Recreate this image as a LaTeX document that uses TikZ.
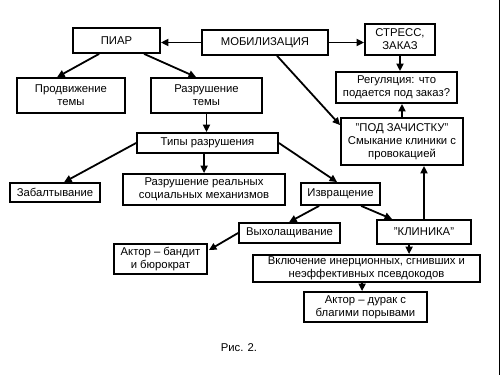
\documentclass[tikz,border=0pt]{standalone}
\usepackage{fontspec}
\setmainfont{Liberation Sans}
\usetikzlibrary{arrows.meta,calc}
\begin{document}
\begin{tikzpicture}[x=1pt,y=-1pt,
  box/.style={draw,line width=1.8pt,inner sep=0pt,align=center,font=\fontsize{11.3}{13.2}\selectfont},
  arr/.style={line width=1.8pt,-{Triangle[length=7.5pt,width=7pt]}}]
\useasboundingbox (0,0) rectangle (500,375);
\node[box,minimum width=87pt,minimum height=25pt] (piar) at (116.5,40.5) {ПИАР};
\node[box,minimum width=126pt,minimum height=25pt] (mob) at (265,42.5) {МОБИЛИЗАЦИЯ};
\node[box,minimum width=70pt,minimum height=31pt] (stress) at (400,39.5) {СТРЕСС,\\ЗАКАЗ};
\node[box,minimum width=121pt,minimum height=31pt] (reg) at (396.5,87.5) {Регуляция: что\\подается под заказ?};
\node[box,minimum width=122pt,minimum height=47pt] (zach) at (402,141.5) {"ПОД ЗАЧИСТКУ"\\Смыкание клиники с\\провокацией};
\node[box,minimum width=108pt,minimum height=35pt] (prod) at (71,95.5) {Продвижение\\темы};
\node[box,minimum width=111pt,minimum height=35pt] (razr) at (206.5,95.5) {Разрушение\\темы};
\node[box,minimum width=141pt,minimum height=20pt] (tipy) at (207.5,143) {Типы разрушения};
\node[box,minimum width=90pt,minimum height=19pt] (zab) at (55,192.5) {Забалтывание};
\node[box,minimum width=162pt,minimum height=31pt] (real) at (204,189.5) {Разрушение реальных\\социальных механизмов};
\node[box,minimum width=79pt,minimum height=22pt] (izv) at (340.5,194) {Извращение};
\node[box,minimum width=101pt,minimum height=20pt] (vyh) at (289.5,233) {Выхолащивание};
\node[box,minimum width=94pt,minimum height=24pt] (klin) at (424,232) {"КЛИНИКА"};
\node[box,minimum width=93pt,minimum height=30pt] (band) at (160.5,259) {Актор – бандит\\и бюрократ};
\node[box,minimum width=227pt,minimum height=27pt] (vkl) at (366.5,268.5) {Включение инерционных, сгнивших и\\неэффективных псевдокодов};
\node[box,minimum width=123pt,minimum height=30pt] (dur) at (365.5,307) {Актор – дурак с\\благими порывами};
\node[font=\fontsize{11.3}{13.2}\selectfont,inner sep=0pt] (cap) at (239,348) {Рис. 2.};
\draw[arr] (mob.west) -- (mob.west -| piar.east);
\draw[arr] (mob.east) -- (mob.east -| stress.west);
\draw[arr] ($(mob.south west)+(76,0)$) -- ($(zach.north west)+(0,8)$);
\draw[arr] (stress.south) -- (stress.south |- reg.north);
\draw[arr] (zach.north) -- (zach.north |- reg.south);
\draw[arr] ($(piar.south west)+(27,0)$) -- ($(prod.north west)+(41,0)$);
\draw[arr] ($(piar.south west)+(72,0)$) -- ($(razr.north west)+(46,0)$);
\draw[arr] (razr.south) -- (razr.south |- tipy.north);
\draw[arr] (tipy.west) -- ($(zab.north west)+(55,0)$);
\draw[arr] ($(tipy.south west)+(68,0)$) coordinate (t1) -- (t1 |- real.north);
\draw[arr] (tipy.east) -- ($(izv.north west)+(37,0)$);
\draw[arr] ($(izv.south west)+(19,0)$) -- ($(vyh.north west)+(51,0)$);
\draw[arr] ($(izv.south west)+(61,0)$) -- ($(klin.north west)+(16,0)$);
\draw[arr] (klin.north) -- (klin.north |- zach.south);
\draw[arr] (vyh.west) -- ($(band.north east)+(1,7)$);
\draw[arr] ($(klin.south west)+(33,0)$) coordinate (k1) -- (k1 |- vkl.north);
\draw[arr] ($(vkl.south west)+(110,0)$) coordinate (v1) -- (v1 |- dur.north);
\draw[line width=1.2pt] (499.4,0) -- (499.4,375);
\end{tikzpicture}
\end{document}
